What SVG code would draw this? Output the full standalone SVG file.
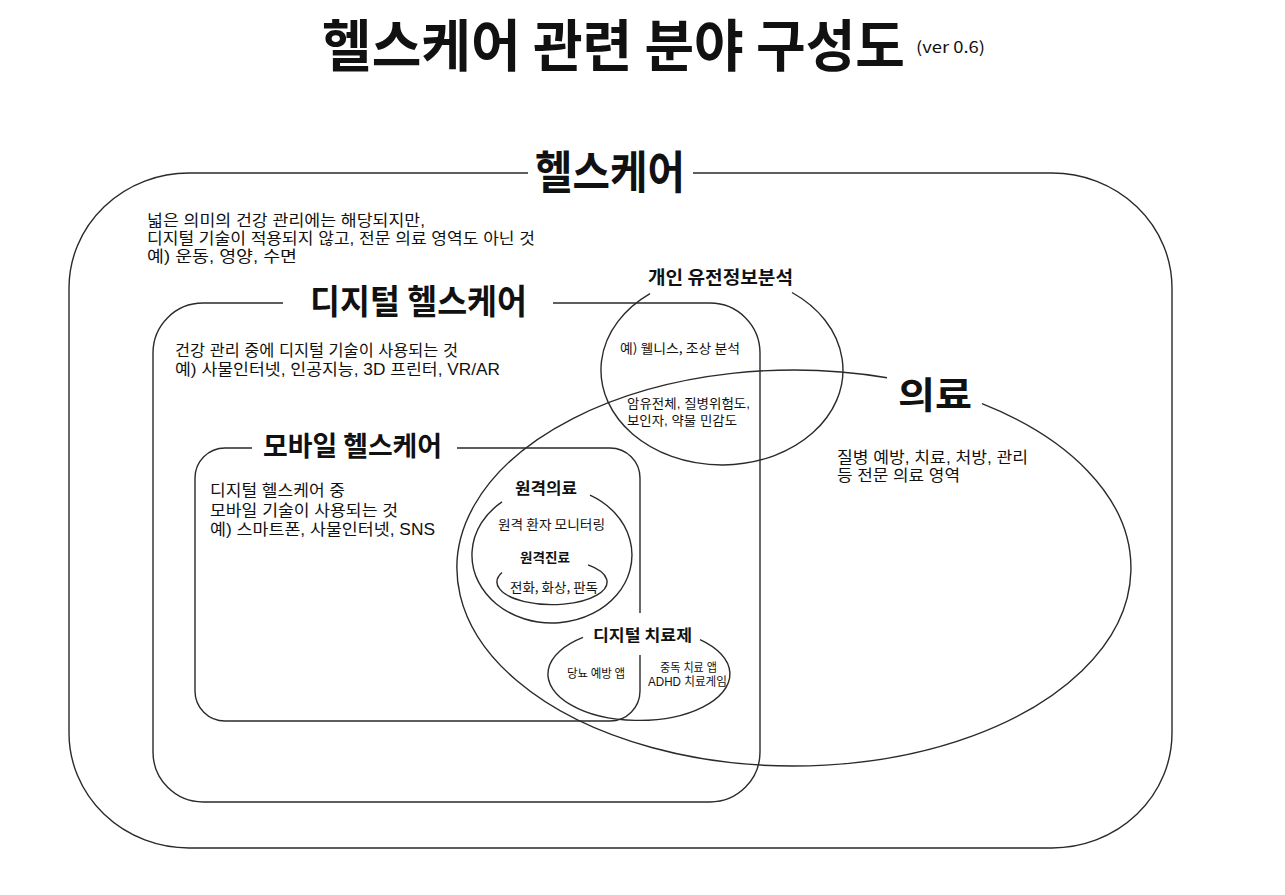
<svg xmlns="http://www.w3.org/2000/svg" width="1285" height="895" viewBox="0 0 1285 895">
<style>
  .ln { fill: none; stroke: #2a2a2a; stroke-width: 1.4; }
  text { font-family: "Noto Sans CJK KR", "Noto Sans", sans-serif; fill: #111; }
  .b { font-weight: 700; }
  .d { font-size: 16px; }
  .s { font-size: 13px; }
  .xs { font-size: 12px; }
  .m { font-family: "Liberation Sans", "Noto Sans CJK KR", sans-serif; }
</style>
<rect width="1285" height="895" fill="#fff"/>

<g id="title">
  <text class="b" transform="translate(322,66) scale(1,1.1)" x="0" y="0" font-size="51" textLength="583" lengthAdjust="spacingAndGlyphs">헬스케어 관련 분야 구성도</text>
  <text x="916" y="53" font-size="16" textLength="69" lengthAdjust="spacingAndGlyphs">(ver 0.6)</text>
</g>

<g id="healthcare">
  <path class="ln" d="M528,173 H189 A120,115 0 0 0 69,288 V733 A120,115 0 0 0 189,848 H1052 A120,115 0 0 0 1172,733 V288 A120,115 0 0 0 1052,173 H693"/>
  <text class="b" transform="translate(535,189) scale(1,1.2)" x="0" y="0" font-size="38" textLength="150" lengthAdjust="spacingAndGlyphs">헬스케어</text>
  <text class="d m"><tspan x="147" y="226" textLength="278" lengthAdjust="spacingAndGlyphs">넓은 의미의 건강 관리에는 해당되지만,</tspan><tspan x="147" y="244" textLength="388" lengthAdjust="spacingAndGlyphs">디지털 기술이 적용되지 않고, 전문 의료 영역도 아닌 것</tspan><tspan x="147" y="262" textLength="150" lengthAdjust="spacingAndGlyphs">예) 운동, 영양, 수면</tspan></text>
</g>

<g id="digital-healthcare">
  <path class="ln" d="M283,303 H203 A50,50 0 0 0 153,353 V752 A50,50 0 0 0 203,802 H710 A50,50 0 0 0 760,752 V353 A50,50 0 0 0 710,303 H553"/>
  <text class="b" transform="translate(310,314) scale(1,1.14)" x="0" y="0" font-size="30" textLength="217" lengthAdjust="spacingAndGlyphs">디지털 헬스케어</text>
  <text class="d m"><tspan x="175" y="356" textLength="283" lengthAdjust="spacingAndGlyphs">건강 관리 중에 디지털 기술이 사용되는 것</tspan><tspan x="175" y="375" textLength="325" lengthAdjust="spacingAndGlyphs">예) 사물인터넷, 인공지능, 3D 프린터, VR/AR</tspan></text>
</g>

<g id="mobile-healthcare">
  <path class="ln" d="M252,448 H225 A30,30 0 0 0 195,478 V691 A30,30 0 0 0 225,721 H610 A30,30 0 0 0 640,691 V655 M640,613 V478 A30,30 0 0 0 610,448 H457"/>
  <text class="b" transform="translate(263,456) scale(1,1.1)" x="0" y="0" font-size="25" textLength="179" lengthAdjust="spacingAndGlyphs">모바일 헬스케어</text>
  <text class="d m"><tspan x="210" y="496" textLength="135" lengthAdjust="spacingAndGlyphs">디지털 헬스케어 중</tspan><tspan x="210" y="516" textLength="188" lengthAdjust="spacingAndGlyphs">모바일 기술이 사용되는 것</tspan><tspan x="210" y="535" textLength="225" lengthAdjust="spacingAndGlyphs">예) 스마트폰, 사물인터넷, SNS</tspan></text>
</g>

<g id="genetic-analysis">
  <path class="ln" d="M650,293.6 A121,95 0 1 0 792,292.5"/>
  <text class="b" x="648" y="284" font-size="18" textLength="145" lengthAdjust="spacingAndGlyphs">개인 유전정보분석</text>
  <text class="s" x="620" y="353" textLength="120" lengthAdjust="spacingAndGlyphs">예) 웰니스, 조상 분석</text>
  <text class="s m"><tspan x="627" y="408" textLength="123" lengthAdjust="spacingAndGlyphs">암유전체, 질병위험도,</tspan><tspan x="627" y="425" textLength="110" lengthAdjust="spacingAndGlyphs">보인자, 약물 민감도</tspan></text>
</g>

<g id="medical">
  <path class="ln" d="M887,377.7 A337,198 0 1 0 982,403.7"/>
  <text class="b" x="898" y="409" font-size="37" textLength="74" lengthAdjust="spacingAndGlyphs">의료</text>
  <text class="d m"><tspan x="837" y="463" textLength="191" lengthAdjust="spacingAndGlyphs">질병 예방, 치료, 처방, 관리</tspan><tspan x="837" y="481" textLength="123" lengthAdjust="spacingAndGlyphs">등 전문 의료 영역</tspan></text>
</g>

<g id="telemedicine">
  <path class="ln" d="M502,501.9 A80,68 0 1 0 590,495.2"/>
  <text class="b" x="515" y="494" font-size="16" textLength="62" lengthAdjust="spacingAndGlyphs">원격의료</text>
  <text class="s" x="498" y="529" textLength="107" lengthAdjust="spacingAndGlyphs">원격 환자 모니터링</text>
</g>

<g id="remote-care">
  <path class="ln" d="M502,572.6 A55,22.6 0 1 0 588,564.9"/>
  <text class="b" x="520" y="562" font-size="13" textLength="50" lengthAdjust="spacingAndGlyphs">원격진료</text>
  <text class="s" x="510" y="592" textLength="88" lengthAdjust="spacingAndGlyphs">전화, 화상, 판독</text>
</g>

<g id="digital-therapeutics">
  <path class="ln" d="M583,637.4 A91,46.4 0 1 0 700,639.6"/>
  <text class="b" x="593" y="641" font-size="16" textLength="99" lengthAdjust="spacingAndGlyphs">디지털 치료제</text>
  <text class="xs" x="567" y="678" textLength="58" lengthAdjust="spacingAndGlyphs">당뇨 예방 앱</text>
  <text class="xs m"><tspan x="660" y="672" textLength="57" lengthAdjust="spacingAndGlyphs">중독 치료 앱</tspan><tspan x="648" y="686" textLength="79" lengthAdjust="spacingAndGlyphs">ADHD 치료게임</tspan></text>
</g>

<g id="connectors"></g>
</svg>
